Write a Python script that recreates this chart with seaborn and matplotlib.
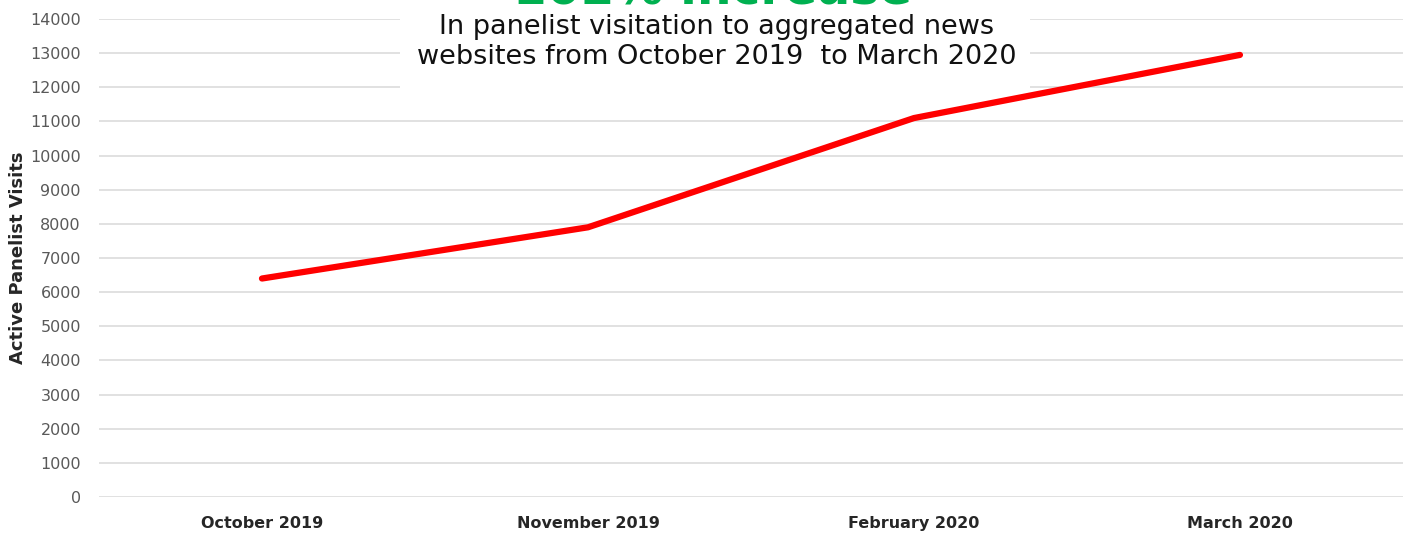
import pandas as pd
import matplotlib.pyplot as plt
import seaborn as sns

# values
months = ['October 2019', 'November 2019', 'February 2020', 'March 2020']
visits = [6400, 7900, 11100, 12950]
y_ticks = list(range(0, 14001, 1000))

df = pd.DataFrame({'month': months, 'visits': visits})

sns.set_style('white')
plt.rcParams['font.family'] = ['DejaVu Sans']

fig = plt.figure(figsize=(14.1, 5.34), dpi=100)
ax = fig.add_axes([0.0702, 0.0693, 0.9248, 0.895])

# light horizontal gridlines
ax.set_yticks(y_ticks)
ax.yaxis.grid(True, color='#d9d9d9', linewidth=1.1)
ax.set_axisbelow(True)

sns.lineplot(data=df, x='month', y='visits', color='#ff0000', linewidth=4.5,
             sort=False, ax=ax, zorder=3)

ax.set_xlim(-0.5, 3.5)
ax.set_ylim(0, 14000)
sns.despine(ax=ax, left=True, bottom=True)

ax.tick_params(axis='y', labelsize=11.5, labelcolor='#595959', length=0, pad=13)
ax.tick_params(axis='x', labelsize=11.5, length=0, pad=14)
for lbl in ax.get_xticklabels():
    lbl.set_fontweight('bold')

ax.set_xlabel('')
ax.set_ylabel('')
fig.text(18 / 1410, 1 - 258 / 534, 'Active Panelist Visits', fontsize=13,
         fontweight='bold', rotation=90, ha='center', va='center')

# white box behind the title text, covering the top gridlines
fig.patches.append(plt.Rectangle((400 / 1410, 1 - 92 / 534), 630 / 1410, 92 / 534,
                                 transform=fig.transFigure, facecolor='white',
                                 edgecolor='none', zorder=5))

# headline sits almost entirely above the top edge, as in the reference
fig.text(713 / 1410, 1 - 4 / 534, '102% increase', color='#00b050', fontsize=35,
         fontweight='bold', ha='center', va='baseline', zorder=6)
fig.text(717 / 1410, 1 - 42 / 534,
         'In panelist visitation to aggregated news\nwebsites from October 2019  to March 2020',
         fontsize=19.5, color='#111111', ha='center', va='center', linespacing=1.2, zorder=6)

fig.savefig('out.png', dpi=100, facecolor='white')
